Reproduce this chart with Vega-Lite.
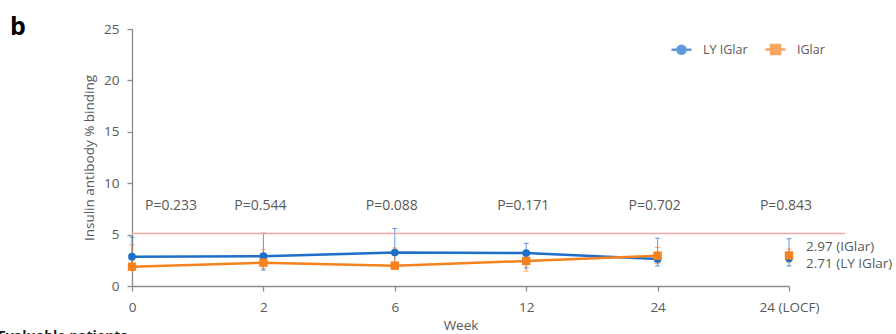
{
  "$schema": "https://vega.github.io/schema/vega-lite/v6.json",
  "width": 657,
  "height": 257,
  "autosize": "none",
  "padding": {"left": 132, "top": 29, "right": 107, "bottom": 48},
  "background": "white",
  "config": {
    "font": "Open Sans",
    "view": {"stroke": null},
    "axis": {
      "labelFont": "Open Sans", "titleFont": "Open Sans", "labelFontSize": 13.5, "titleFontSize": 13.5,
      "titleFontWeight": "normal", "labelColor": "#595959", "titleColor": "#595959",
      "domainColor": "#8c8c8c", "tickColor": "#8c8c8c", "domainWidth": 1.3, "tickWidth": 1.3, "tickSize": 5, "grid": false
    },
    "axisX": {"labelFlush": false, "labelAlign": "center", "labelAngle": 0}
  },
  "title": {
    "text": "b",
    "anchor": "start",
    "frame": "group",
    "fontSize": 25,
    "fontWeight": "bold",
    "color": "#000000",
    "dx": -122,
    "dy": 18,
    "offset": 0
  },
  "datasets": {
    "series": [
      {"week": "0", "series": "LY IGlar", "value": 2.85, "lower": 2.0, "upper": 4.75},
      {"week": "2", "series": "LY IGlar", "value": 2.9, "lower": 1.55, "upper": 5.15},
      {"week": "6", "series": "LY IGlar", "value": 3.25, "lower": 2.1, "upper": 5.6},
      {"week": "12", "series": "LY IGlar", "value": 3.2, "lower": 1.75, "upper": 4.15},
      {"week": "24", "series": "LY IGlar", "value": 2.63, "lower": 1.95, "upper": 4.65},
      {"week": "24 (LOCF)", "series": "LY IGlar", "value": 2.71, "lower": 1.95, "upper": 4.6},
      {"week": "0", "series": "IGlar", "value": 1.88, "lower": 1.5, "upper": 4.0},
      {"week": "2", "series": "IGlar", "value": 2.27, "lower": 1.7, "upper": 3.55},
      {"week": "6", "series": "IGlar", "value": 1.98, "lower": 1.6, "upper": 3.7},
      {"week": "12", "series": "IGlar", "value": 2.43, "lower": 1.45, "upper": 3.2},
      {"week": "24", "series": "IGlar", "value": 2.95, "lower": 2.2, "upper": 3.75},
      {"week": "24 (LOCF)", "series": "IGlar", "value": 2.97, "lower": 2.3, "upper": 3.6}
    ],
    "pvals": [
      {"week": "0", "p": "P=0.233"},
      {"week": "2", "p": "P=0.544"},
      {"week": "6", "p": "P=0.088"},
      {"week": "12", "p": "P=0.171"},
      {"week": "24", "p": "P=0.702"},
      {"week": "24 (LOCF)", "p": "P=0.843"}
    ],
    "endlabels": [
      {"week": "24 (LOCF)", "series": "IGlar", "value": 2.97, "label": "2.97 (IGlar)"},
      {"week": "24 (LOCF)", "series": "LY IGlar", "value": 2.71, "label": "2.71 (LY IGlar)"}
    ],
    "threshold": [{"limit": 5.1}],
    "notes": [{"note": "Evaluable patients"}]
  },
  "layer": [
    {
      "data": {"name": "series"},
      "mark": {"type": "rule", "strokeWidth": 1, "opacity": 0.7},
      "encoding": {
        "x": {
          "field": "week",
          "type": "nominal",
          "scale": {"type": "point", "padding": 0, "domain": ["0", "2", "6", "12", "24", "24 (LOCF)"]},
          "axis": {"title": "Week", "labelAngle": 0, "labelAlign": "center", "labelFlush": false, "labelPadding": 9, "titlePadding": 5}
        },
        "y": {
          "field": "lower",
          "type": "quantitative",
          "scale": {"domain": [0, 25], "nice": false},
          "axis": {"title": "Insulin antibody % binding", "values": [0, 5, 10, 15, 20, 25], "labelPadding": 8, "titlePadding": 7}
        },
        "y2": {"field": "upper"},
        "color": {
          "field": "series",
          "type": "nominal",
          "scale": {"domain": ["LY IGlar", "IGlar"], "range": ["#1f6fc8", "#f5821f"]}
        }
      }
    },
    {
      "data": {"name": "series"},
      "mark": {"type": "tick", "orient": "horizontal", "size": 5, "thickness": 1, "opacity": 0.7},
      "encoding": {
        "x": {"field": "week", "type": "nominal"},
        "y": {"field": "upper", "type": "quantitative"},
        "color": {"field": "series", "type": "nominal"}
      }
    },
    {
      "data": {"name": "series"},
      "mark": {"type": "tick", "orient": "horizontal", "size": 5, "thickness": 1, "opacity": 0.7},
      "encoding": {
        "x": {"field": "week", "type": "nominal"},
        "y": {"field": "lower", "type": "quantitative"},
        "color": {"field": "series", "type": "nominal"}
      }
    },
    {
      "data": {"name": "threshold"},
      "mark": {"type": "rule", "color": "#f2a7a7", "strokeWidth": 1.5, "x2Offset": 56},
      "encoding": {
        "x": {"datum": "0", "type": "nominal"},
        "x2": {"datum": "24 (LOCF)"},
        "y": {"field": "limit", "type": "quantitative"}
      }
    },
    {
      "data": {"name": "series"},
      "transform": [{"filter": "datum.week !== '24 (LOCF)'"}],
      "mark": {"type": "line", "strokeWidth": 2.5},
      "encoding": {
        "x": {"field": "week", "type": "nominal"},
        "y": {"field": "value", "type": "quantitative"},
        "color": {"field": "series", "type": "nominal"}
      }
    },
    {
      "data": {"name": "series"},
      "transform": [{"filter": "datum.series === 'LY IGlar'"}],
      "mark": {"type": "point", "filled": true, "opacity": 1, "size": 60, "shape": "circle"},
      "encoding": {
        "x": {"field": "week", "type": "nominal"},
        "y": {"field": "value", "type": "quantitative"},
        "color": {"field": "series", "type": "nominal"}
      }
    },
    {
      "data": {"name": "series"},
      "transform": [{"filter": "datum.series === 'IGlar'"}],
      "mark": {"type": "point", "filled": true, "opacity": 1, "size": 70, "shape": "square"},
      "encoding": {
        "x": {"field": "week", "type": "nominal"},
        "y": {"field": "value", "type": "quantitative"},
        "color": {"field": "series", "type": "nominal"}
      }
    },
    {
      "data": {"name": "series"},
      "transform": [{"filter": "false"}],
      "mark": {"type": "point", "filled": true, "opacity": 1},
      "encoding": {
        "x": {"field": "week", "type": "nominal"},
        "y": {"field": "value", "type": "quantitative"},
        "color": {
          "field": "series",
          "type": "nominal",
          "legend": {
            "title": null,
            "orient": "none",
            "legendX": 538,
            "legendY": 9,
            "direction": "horizontal",
            "labelFont": "Open Sans",
            "labelFontSize": 12.5,
            "labelColor": "#595959",
            "symbolSize": 400,
            "symbolStrokeWidth": 2.5,
            "symbolOpacity": 1,
            "labelOffset": 10,
            "columnPadding": 12,
            "padding": 0
          }
        },
        "stroke": {
          "field": "series",
          "type": "nominal",
          "scale": {"domain": ["LY IGlar", "IGlar"], "range": ["#1f6fc8", "#f5821f"]},
          "legend": {"title": null, "orient": "none", "legendX": 538, "legendY": 9, "direction": "horizontal"}
        },
        "shape": {
          "field": "series",
          "type": "nominal",
          "scale": {
            "domain": ["LY IGlar", "IGlar"],
            "range": [
              "M-1,0L1,0M-0.4,0A0.4,0.4,0,1,1,0.4,0A0.4,0.4,0,1,1,-0.4,0Z",
              "M-1,0L1,0M-0.45,-0.45L0.45,-0.45L0.45,0.45L-0.45,0.45Z"
            ]
          },
          "legend": {"title": null, "orient": "none", "legendX": 538, "legendY": 9, "direction": "horizontal"}
        }
      }
    },
    {
      "data": {"name": "pvals"},
      "transform": [{"filter": "datum.week === '0'"}],
      "mark": {"type": "text", "align": "left", "baseline": "middle", "dx": 13, "fontSize": 14, "color": "#595959"},
      "encoding": {
        "x": {"field": "week", "type": "nominal"},
        "y": {"datum": 7.8},
        "text": {"field": "p"}
      }
    },
    {
      "data": {"name": "pvals"},
      "transform": [{"filter": "datum.week !== '0'"}],
      "mark": {"type": "text", "align": "center", "baseline": "middle", "dx": -3, "fontSize": 14, "color": "#595959"},
      "encoding": {
        "x": {"field": "week", "type": "nominal"},
        "y": {"datum": 7.8},
        "text": {"field": "p"}
      }
    },
    {
      "data": {"name": "endlabels"},
      "transform": [{"filter": "datum.series === 'IGlar'"}],
      "mark": {"type": "text", "align": "left", "baseline": "middle", "dx": 17, "dy": -8, "fontSize": 13.5, "color": "#595959"},
      "encoding": {
        "x": {"field": "week", "type": "nominal"},
        "y": {"field": "value", "type": "quantitative"},
        "text": {"field": "label"}
      }
    },
    {
      "data": {"name": "endlabels"},
      "transform": [{"filter": "datum.series === 'LY IGlar'"}],
      "mark": {"type": "text", "align": "left", "baseline": "middle", "dx": 17, "dy": 6, "fontSize": 13.5, "color": "#595959"},
      "encoding": {
        "x": {"field": "week", "type": "nominal"},
        "y": {"field": "value", "type": "quantitative"},
        "text": {"field": "label"}
      }
    },
    {
      "data": {"name": "notes"},
      "mark": {"type": "text", "align": "left", "baseline": "top", "dx": -134, "dy": 44, "fontSize": 14, "fontWeight": "bold", "color": "#1a1a1a"},
      "encoding": {
        "x": {"datum": "0", "type": "nominal"},
        "y": {"datum": 0, "type": "quantitative"},
        "text": {"field": "note"}
      }
    }
  ]
}
